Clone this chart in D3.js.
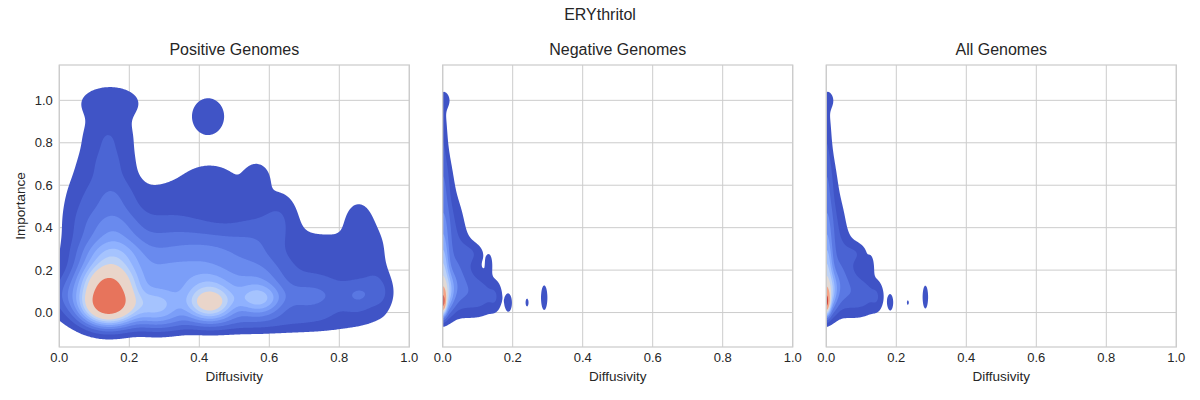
<!DOCTYPE html>
<html>
<head>
<meta charset="utf-8">
<script src="https://cdn.jsdelivr.net/npm/d3@7"></script>
<style>
  body { margin: 0; background: #fff; }
  svg text { font-family: "Liberation Sans", Arial, sans-serif; fill: #262626; }
</style>
</head>
<body>
<div id="chart"></div>
<script>
// --- data ---
const figureTitle = "ERYthritol"
const panelTitles = ["Positive Genomes", "Negative Genomes", "All Genomes"]
const xTicks = [0, 0.2, 0.4, 0.6, 0.8, 1.0]
const yTicks = [0, 0.2, 0.4, 0.6, 0.8, 1.0]
const xLabel = "Diffusivity"
const yLabel = "Importance"

// density bumps: [diffusivity, importance, spread x, spread y, height]
const posBlobs = [
  [0.14, 0.04, 0.05, 0.06, 0.50],
  [0.14, 0.15, 0.055, 0.06, 0.30],
  [0.15, 0.27, 0.06, 0.06, 0.14],
  [0.15, 0.40, 0.055, 0.07, 0.075],
  [0.15, 0.55, 0.05, 0.07, 0.045],
  [0.14, 0.70, 0.05, 0.07, 0.03],
  [0.14, 0.84, 0.05, 0.07, 0.026],
  [0.145, 0.99, 0.06, 0.055, 0.027],
  [0.02, 0.08, 0.035, 0.06, 0.035],
  [0.06, 0.45, 0.04, 0.15, 0.02],
  [0.28, 0.03, 0.05, 0.06, 0.16],
  [0.43, 0.04, 0.045, 0.05, 0.24],
  [0.43, 0.12, 0.06, 0.07, 0.12],
  [0.57, 0.06, 0.045, 0.05, 0.16],
  [0.57, 0.16, 0.06, 0.07, 0.07],
  [0.70, 0.07, 0.05, 0.06, 0.045],
  [0.78, 0.08, 0.05, 0.07, 0.03],
  [0.86, 0.08, 0.035, 0.06, 0.045],
  [0.92, 0.09, 0.025, 0.06, 0.025],
  [0.50, -0.04, 0.22, 0.04, 0.035],
  [0.30, 0.18, 0.07, 0.08, 0.08],
  [0.30, 0.35, 0.08, 0.10, 0.04],
  [0.44, 0.28, 0.08, 0.08, 0.065],
  [0.43, 0.55, 0.08, 0.12, 0.016],
  [0.43, 0.62, 0.05, 0.05, 0.01],
  [0.57, 0.35, 0.06, 0.10, 0.035],
  [0.565, 0.63, 0.025, 0.05, 0.026],
  [0.63, 0.46, 0.035, 0.08, 0.02],
  [0.72, 0.25, 0.06, 0.10, 0.02],
  [0.80, 0.28, 0.04, 0.06, 0.015],
  [0.855, 0.41, 0.03, 0.08, 0.025],
  [0.90, 0.30, 0.03, 0.08, 0.015],
  [0.90, 0.18, 0.03, 0.06, 0.012],
  [0.425, 0.925, 0.035, 0.065, 0.027],
  [0.30, 0.55, 0.06, 0.06, 0.009]
]

const negBlobs = [
  [0.000, 0.045, 0.007, 0.035, 0.55],
  [0.000, 0.09, 0.018, 0.06, 0.30],
  [0.010, 0.13, 0.035, 0.07, 0.10],
  [0.000, 0.22, 0.012, 0.08, 0.20],
  [0.000, 0.38, 0.014, 0.10, 0.10],
  [0.000, 0.60, 0.012, 0.12, 0.05],
  [0.000, 0.85, 0.010, 0.12, 0.03],
  [0.008, 1.00, 0.012, 0.03, 0.024],
  [0.020, 0.38, 0.030, 0.12, 0.045],
  [0.010, 0.62, 0.020, 0.10, 0.02],
  [0.060, 0.10, 0.050, 0.08, 0.04],
  [0.050, 0.26, 0.030, 0.07, 0.03],
  [0.085, 0.28, 0.025, 0.035, 0.025],
  [0.110, 0.08, 0.035, 0.06, 0.035],
  [0.150, 0.07, 0.012, 0.045, 0.022],
  [0.133, 0.23, 0.007, 0.035, 0.026],
  [0.188, 0.045, 0.007, 0.030, 0.04],
  [0.241, 0.047, 0.004, 0.018, 0.03],
  [0.290, 0.07, 0.007, 0.045, 0.04]
]

const allBlobs = [
  [0.000, 0.045, 0.007, 0.035, 0.55],
  [0.000, 0.09, 0.017, 0.06, 0.30],
  [0.010, 0.13, 0.033, 0.07, 0.10],
  [0.000, 0.22, 0.012, 0.08, 0.20],
  [0.000, 0.38, 0.013, 0.10, 0.10],
  [0.000, 0.60, 0.012, 0.12, 0.05],
  [0.000, 0.85, 0.011, 0.12, 0.03],
  [0.008, 1.00, 0.012, 0.03, 0.024],
  [0.018, 0.38, 0.027, 0.12, 0.045],
  [0.010, 0.62, 0.020, 0.10, 0.02],
  [0.060, 0.10, 0.048, 0.08, 0.04],
  [0.050, 0.26, 0.030, 0.07, 0.03],
  [0.088, 0.28, 0.022, 0.035, 0.025],
  [0.105, 0.08, 0.033, 0.06, 0.035],
  [0.145, 0.07, 0.012, 0.045, 0.022],
  [0.127, 0.22, 0.007, 0.035, 0.026],
  [0.183, 0.047, 0.006, 0.028, 0.038],
  [0.233, 0.047, 0.003, 0.012, 0.027],
  [0.283, 0.073, 0.006, 0.042, 0.04]
]

// contour levels as a share of each panel's peak density
const posLevels = [0.02, 0.054, 0.094, 0.138, 0.187, 0.24, 0.30, 0.363, 0.44, 0.677]
const negLevels = [0.02, 0.05, 0.09, 0.15, 0.21, 0.28, 0.36, 0.46, 0.60, 0.86]
const allLevels = [0.02, 0.05, 0.09, 0.15, 0.21, 0.28, 0.36, 0.46, 0.60, 0.86]

// coolwarm colormap stops
const coolwarmColors = [
  "#3b4cc0", "#4d68d7", "#6282ea", "#779af7", "#8db0fe", "#a3c2ff", "#b8d0f9", "#ccd9ee",
  "#dddddd", "#ecd3c5", "#f5c4ac", "#f7b193", "#f49a7b", "#ec7f63", "#de604f", "#cb3e38", "#b40426"
]

// --- layout ---
const width = 1200, height = 400
const plotW = 350, plotH = 282, plotTop = 65
const panelLeft = [59.3, 442.7, 826.3]
const pad = 3

const coolwarm = d3.scaleLinear()
  .domain(d3.range(coolwarmColors.length).map(i => i / (coolwarmColors.length - 1)))
  .range(coolwarmColors)
  .interpolate(d3.interpolateRgb)

const x = d3.scaleLinear().domain([0, 1]).range([0, plotW])
const y = d3.scaleLinear().domain([-0.1623, 1.1665]).range([plotH, 0])

const svg = d3.select("#chart").append("svg")
  .attr("width", width)
  .attr("height", height)
  .attr("viewBox", `0 0 ${width} ${height}`)

svg.append("text")
  .attr("x", 600)
  .attr("y", 20)
  .attr("text-anchor", "middle")
  .style("font-size", "16px")
  .text(figureTitle)

function densityGrid(blobs, nx, ny) {
  const values = new Float64Array(nx * ny)
  for (let j = 0; j < ny; j++) {
    const yv = y.invert(j - pad + 0.5)
    for (let i = 0; i < nx; i++) {
      const xv = x.invert(i - pad + 0.5)
      let s = 0
      for (const [bx, by, sx, sy, a] of blobs) {
        const u = (xv - bx) / sx, v = (yv - by) / sy
        s += a * Math.exp(-0.5 * (u * u + v * v))
      }
      values[j * nx + i] = s
    }
  }
  return values
}

const panels = [
  { title: panelTitles[0], blobs: posBlobs, levels: posLevels },
  { title: panelTitles[1], blobs: negBlobs, levels: negLevels },
  { title: panelTitles[2], blobs: allBlobs, levels: allLevels }
]

panels.forEach((p, k) => {
  const g = svg.append("g").attr("transform", `translate(${panelLeft[k]},${plotTop})`)

  // grid
  g.selectAll(".ygrid").data(yTicks).enter().append("line")
    .attr("x1", 0).attr("x2", plotW)
    .attr("y1", d => y(d)).attr("y2", d => y(d))
    .attr("stroke", "#cccccc").attr("stroke-width", 1)
  g.selectAll(".xgrid").data(xTicks).enter().append("line")
    .attr("x1", d => x(d)).attr("x2", d => x(d))
    .attr("y1", 0).attr("y2", plotH)
    .attr("stroke", "#cccccc").attr("stroke-width", 1)

  // density contours
  const nx = plotW + 2 * pad, ny = plotH + 2 * pad
  const values = densityGrid(p.blobs, nx, ny)
  const peak = d3.max(values)
  const bounds = p.levels.concat([1])
  const contours = d3.contours()
    .size([nx, ny])
    .thresholds(p.levels.map(l => l * peak))(values)

  const clipId = `clip${k}`
  g.append("clipPath").attr("id", clipId)
    .append("rect").attr("width", plotW).attr("height", plotH)

  const path = d3.geoPath(d3.geoIdentity().translate([-pad, -pad]))
  g.append("g").attr("clip-path", `url(#${clipId})`)
    .selectAll("path").data(contours).enter().append("path")
    .attr("d", path)
    .attr("fill", (d, i) => {
      const mid = (bounds[i] + bounds[i + 1]) / 2
      return coolwarm((mid - bounds[0]) / (1 - bounds[0]))
    })

  // frame
  g.append("rect")
    .attr("width", plotW).attr("height", plotH)
    .attr("fill", "none").attr("stroke", "#cccccc").attr("stroke-width", 1.25)

  // x tick labels
  g.selectAll(".xtick").data(xTicks).enter().append("text")
    .attr("x", d => x(d)).attr("y", plotH + 15)
    .attr("text-anchor", "middle")
    .style("font-size", "13px")
    .text(d3.format(".1f"))

  g.append("text")
    .attr("x", plotW / 2).attr("y", plotH + 34)
    .attr("text-anchor", "middle")
    .style("font-size", "13.5px")
    .text(xLabel)

  g.append("text")
    .attr("x", plotW / 2).attr("y", -10)
    .attr("text-anchor", "middle")
    .style("font-size", "16px")
    .text(p.title)

  if (k === 0) {
    g.selectAll(".ytick").data(yTicks).enter().append("text")
      .attr("x", -6.5).attr("y", d => y(d))
      .attr("dy", "0.36em")
      .attr("text-anchor", "end")
      .style("font-size", "13px")
      .text(d3.format(".1f"))

    g.append("text")
      .attr("transform", `translate(-34,${plotH / 2}) rotate(-90)`)
      .attr("text-anchor", "middle")
      .style("font-size", "13.5px")
      .text(yLabel)
  }
})
</script>
</body>
</html>
